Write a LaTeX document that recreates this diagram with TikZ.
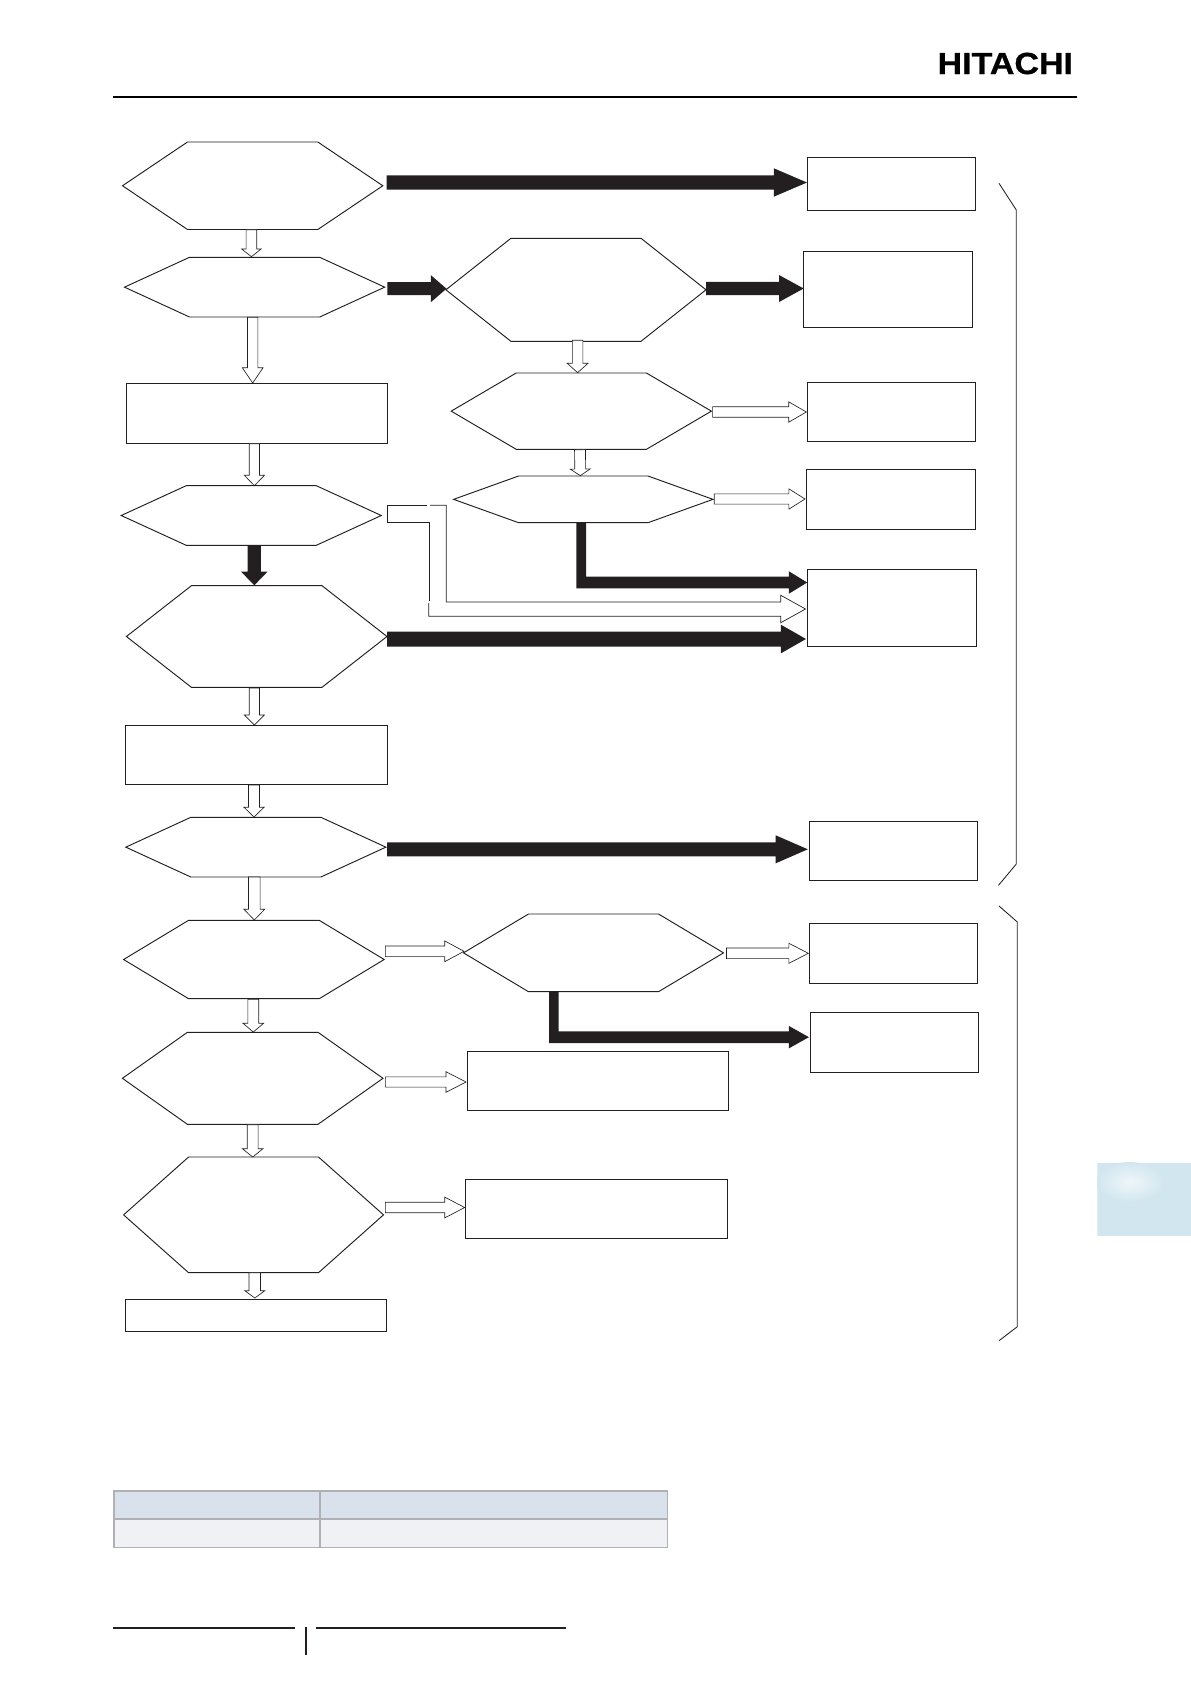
\documentclass[tikz,border=0pt]{standalone}
\usepackage{fontspec}
\setmainfont{Liberation Sans}
\newfontfamily\logofont[BoldFeatures={FakeBold=0.7}]{Liberation Sans}
\usetikzlibrary{calc}
\definecolor{ink}{HTML}{231F20}
\definecolor{tabgrey}{HTML}{B1B1B5}
\definecolor{headfill}{HTML}{D8E1EC}
\definecolor{rowfill}{HTML}{EFF1F4}
\definecolor{tabblue}{HTML}{D2E6EF}
\tikzset{
  frameline/.style={draw=ink,line width=1.1pt,line join=miter},
  hexline/.style={draw=ink,line width=0.95pt,line join=miter},
  blackblock/.style={fill=ink,draw=none},
  whiteblock/.style={fill=white,draw=ink,line width=0.65pt,line join=miter},
  thinline/.style={draw=ink,line width=0.7pt},
  bracket/.style={draw=ink,line width=0.85pt},
  ruleline/.style={draw=black,line width=2pt},
  tablecell/.style={draw=tabgrey,line width=1.6pt,inner sep=0pt,outer sep=0pt},
  anchorbox/.style={inner sep=0pt,outer sep=0pt}
}
% name, x-left, x-right, y-top, y-bottom
\newcommand\placebox[6][anchorbox]{%
  \node[#1,minimum width={(#4-#3)*1pt},minimum height={(#6-#5)*1pt}] (#2) at ({(#3+#4)/2},{(#5+#6)/2}) {};}
\newcommand\hexnode[5]{%
  \placebox{#1}{#2}{#3}{#4}{#5}%
  \draw[hexline] (#1.west) -- ([shift={(65,0)}]#1.north west) -- ([shift={(-65,0)}]#1.north east)
    -- (#1.east) -- ([shift={(-65,0)}]#1.south east) -- ([shift={(65,0)}]#1.south west) -- cycle;}
\newcommand\rectnode[5]{\placebox[anchorbox,frameline]{#1}{#2}{#3}{#4}{#5}}
% style, start, end, shaft width, head width, head length
\newcommand\blockarrow[6]{%
  \coordinate (S) at #2; \coordinate (T) at #3;
  \coordinate (B) at ($(T)!#6pt!(S)$);
  \path[#1] ($(S)!0.5*#4pt!90:(T)$) -- ($(B)!0.5*#4pt!90:(T)$) -- ($(B)!0.5*#5pt!90:(T)$) -- (T)
    -- ($(B)!0.5*#5pt!-90:(T)$) -- ($(B)!0.5*#4pt!-90:(T)$) -- ($(S)!0.5*#4pt!-90:(T)$) -- cycle;}
% start, end, half vertical width, half shaft, half head, head length
\newcommand\bentarrow[6]{%
  \coordinate (S) at #1; \coordinate (T) at #2;
  \coordinate (Sl) at ([shift={(-#3,0)}]S); \coordinate (Sr) at ([shift={(#3,0)}]S);
  \coordinate (Tu) at ([shift={(0,-#4)}]T); \coordinate (Td) at ([shift={(0,#4)}]T);
  \coordinate (Tb) at ([shift={(-#6,0)}]T);
  \fill[ink] (Sl) -- (Sr) -- (Sr |- Tu) -- (Tb |- Tu) -- ([shift={(0,-#5)}]Tb) -- (T)
    -- ([shift={(0,#5)}]Tb) -- (Tb |- Td) -- (Sl |- Td) -- cycle;}
\begin{document}
\begin{tikzpicture}[x=1pt,y=-1pt]
\useasboundingbox (0,0) rectangle (1191,1684);
% side tab
\begin{scope}
  \clip (1097.3,1162.7) rectangle (1191,1236);
  \fill[tabblue] (1097.3,1162.7) rectangle (1191,1236);
  \shade[inner color=tabblue!35!white,outer color=tabblue] (1130,1182) ellipse (34 and 20);
\end{scope}
% header
\node[anchorbox,anchor=base west,xscale=1.115,font=\fontsize{30.5}{31}\logofont\bfseries] (logo) at (937.6,74) {HITACHI};
\coordinate (hdl) at (112.8,96.7); \coordinate (hdr) at (1077,96.7);
\draw[ruleline] (hdl) -- (hdr);
% hexagons
\hexnode{h1}{122.5}{382.8}{142}{229.5}
\hexnode{h2}{124.5}{384.7}{257.3}{317}
\hexnode{h3}{445.9}{706}{238.3}{341.3}
\hexnode{h4}{451.2}{711.4}{373}{449.3}
\hexnode{h5}{121.2}{381.3}{485.7}{545.3}
\hexnode{h6}{453.6}{713}{476}{522.7}
\hexnode{h7}{126.4}{387}{585.7}{687.3}
\hexnode{h8}{125.8}{385.9}{817.3}{877}
\hexnode{h9}{123.6}{384.2}{920.3}{998.7}
\hexnode{h10}{463.5}{723.5}{914}{991.7}
\hexnode{h11}{122.4}{383}{1032.3}{1124.3}
\hexnode{h12}{123.6}{383.5}{1157}{1272.7}
% boxes
\rectnode{b1}{807.6}{975.5}{157.3}{210.3}
\rectnode{b2}{803.7}{972.9}{251.3}{327.3}
\rectnode{b3}{126.2}{387.6}{383.3}{443.3}
\rectnode{b4}{807.4}{975.5}{382.3}{441.3}
\rectnode{b5}{806.7}{975.4}{469.3}{529.3}
\rectnode{b6}{807.2}{976.6}{569.3}{646.7}
\rectnode{b7}{125.8}{387.6}{725.3}{784.3}
\rectnode{b8}{809.5}{977.7}{821.3}{880.7}
\rectnode{b9}{809.5}{977.9}{923.3}{983.3}
\rectnode{b10}{810.7}{978.5}{1012.3}{1072.3}
\rectnode{b11}{467.2}{728.3}{1051.3}{1110.3}
\rectnode{b12}{465.3}{727.7}{1179.3}{1238.7}
\rectnode{b13}{125.4}{386.6}{1299.3}{1331.7}
% block arrows
\blockarrow{blackblock}{([shift={(3.9,-3.25)}]h1.east)}{([shift={(-0.6,-1.3)}]b1.west)}{14.4}{28.4}{33.2}
\blockarrow{whiteblock}{([shift={(-1.25,0.2)}]h1.south)}{([shift={(-3.2,-0.6)}]h2.north)}{10.6}{19.4}{7.7}
\blockarrow{blackblock}{([shift={(2.6,1.55)}]h2.east)}{([shift={(0.6,-1.1)}]h3.west)}{13}{27}{15.6}
\blockarrow{blackblock}{([shift={(0,-1.3)}]h3.east)}{([shift={(0,-0.8)}]b2.west)}{13.3}{27}{24.7}
\blockarrow{whiteblock}{([shift={(-1.9,0.3)}]h2.south)}{([shift={(-4.2,-0.3)}]b3.north)}{10.4}{20.8}{15.3}
\blockarrow{whiteblock}{([shift={(1.65,-1)}]h3.south)}{([shift={(-3.7,-0.3)}]h4.north)}{10.5}{20.8}{9.4}
\blockarrow{whiteblock}{([shift={(1.2,0.85)}]h4.east)}{([shift={(-1.1,0.2)}]b4.west)}{10.6}{20.3}{17.5}
\blockarrow{whiteblock}{([shift={(-2.5,0.4)}]b3.south)}{([shift={(3.15,0)}]h5.north)}{10.3}{20.1}{10.4}
\blockarrow{whiteblock}{([shift={(-1.3,0.4)}]h4.south)}{([shift={(-3,-0.3)}]h6.north)}{10.9}{20}{6.7}
\blockarrow{whiteblock}{([shift={(1.2,-0.35)}]h6.east)}{([shift={(-1.7,-0.3)}]b5.west)}{10.3}{20.3}{16.1}
\blockarrow{blackblock}{([shift={(3.05,0)}]h5.south)}{([shift={(-2.4,-0.4)}]h7.north)}{13.2}{26.4}{13.6}
\blockarrow{blackblock}{([shift={(0,2.5)}]h7.east)}{([shift={(-1.2,31)}]b6.west)}{15}{28.7}{25.2}
\blockarrow{whiteblock}{([shift={(-2.3,0.7)}]h7.south)}{([shift={(-2.3,-0.3)}]b7.north)}{10.3}{20.1}{10}
\blockarrow{whiteblock}{([shift={(-2.7,0.7)}]b7.south)}{([shift={(-1.85,-0.3)}]h8.north)}{10.9}{20}{9.7}
\blockarrow{blackblock}{([shift={(1.1,2.15)}]h8.east)}{([shift={(-1.7,-1.7)}]b8.west)}{14}{28}{32.1}
\blockarrow{whiteblock}{([shift={(-1.55,0)}]h8.south)}{([shift={(0.4,-0.3)}]h9.north)}{11.6}{20.6}{10.7}
\blockarrow{whiteblock}{([shift={(1.2,-8.2)}]h9.east)}{([shift={(0.5,-1.55)}]h10.west)}{10.7}{20.7}{19.2}
\blockarrow{whiteblock}{([shift={(3,0.45)}]h10.east)}{([shift={(-1.2,0)}]b9.west)}{10.7}{20}{19.4}
\blockarrow{whiteblock}{([shift={(-0.6,0.6)}]h9.south)}{([shift={(0.6,-0.3)}]h11.north)}{10.9}{20.6}{8.7}
\blockarrow{whiteblock}{([shift={(2.4,3.7)}]h11.east)}{([shift={(-1.2,1.2)}]b11.west)}{10.3}{20.6}{20}
\blockarrow{whiteblock}{([shift={(0,0.4)}]h11.south)}{([shift={(-0.85,0)}]h12.north)}{10.8}{20.6}{8.3}
\blockarrow{whiteblock}{([shift={(1.9,-7.35)}]h12.east)}{([shift={(-0.6,-1.5)}]b12.west)}{10.4}{20.7}{19.9}
\blockarrow{whiteblock}{([shift={(1.25,0)}]h12.south)}{([shift={(-1.2,-1.3)}]b13.north)}{11.5}{20}{7.3}
% bent black arrows
\bentarrow{([shift={(-2,0)}]h6.south)}{([shift={(0,-25.5)}]b6.west)}{4.9}{5.8}{11.2}{18.3}
\bentarrow{([shift={(-39.65,0.3)}]h10.south)}{([shift={(-1.8,-5.15)}]b10.west)}{4.85}{5.85}{11.2}{20}
% bent white arrow h5 -> b6
\coordinate (wa) at ([shift={(6.3,-10.2)}]h5.east);
\coordinate (wb) at ([shift={(6.3,6.8)}]h5.east);
\coordinate (wc) at ([shift={(-361,-6)}]b6.west);
\coordinate (wd) at ([shift={(-378.4,8.3)}]b6.west);
\coordinate (wt) at ([shift={(-1.7,1)}]b6.west);
\coordinate (we) at ([shift={(-24.7,0)}]wt);
\coordinate (wg) at (wa -| wd);
\draw[thinline] (wa |- wa) -- ([shift={(-1.5,0)}]wg);
\draw[thinline] (wa) -- (wb) -- ([shift={(0.3,0)}]wb -| wd) -- ([shift={(0.3,-15.3)}]wd);
\draw[thinline] ([shift={(1.4,0)}]wg) -- (wc |- wa) -- (wc) -- (wc -| we) -- ([shift={(0,-13.7)}]we) -- (wt)
  -- ([shift={(0,13.7)}]we) -- (wd -| we) -- (wd) -- ([shift={(0,-13.3)}]wd);
% brackets
\coordinate (ba) at (999,183.3); \coordinate (bb) at (1016.3,210); \coordinate (bc) at (1016.3,864); \coordinate (bd) at (998.5,885.3);
\draw[bracket] (ba) -- (bb) -- (bc) -- (bd);
\coordinate (be) at (999,906); \coordinate (bf) at (1017.3,922); \coordinate (bg) at (1017.3,1326.7); \coordinate (bh) at (999,1340.7);
\draw[bracket] (be) -- (bf) -- (bg) -- (bh);
% table
\placebox[tablecell,fill=headfill]{t11}{113.7}{319.7}{1490.7}{1519}
\placebox[tablecell,fill=headfill]{t12}{319.7}{667.3}{1490.7}{1519}
\placebox[tablecell,fill=rowfill]{t21}{113.7}{319.7}{1519}{1547.3}
\placebox[tablecell,fill=rowfill]{t22}{319.7}{667.3}{1519}{1547.3}
% footer
\coordinate (fa) at (113,1627.7); \coordinate (fb) at (294.8,1627.7); \coordinate (fc) at (316.2,1627.7); \coordinate (fd) at (566,1627.7);
\coordinate (fe) at (305.9,1627.3); \coordinate (ff) at (305.9,1655);
\draw[ink,line width=1.8pt] (fa) -- (fb) (fc) -- (fd);
\draw[ink,line width=1.6pt] (fe) -- (ff);
\end{tikzpicture}
\end{document}
